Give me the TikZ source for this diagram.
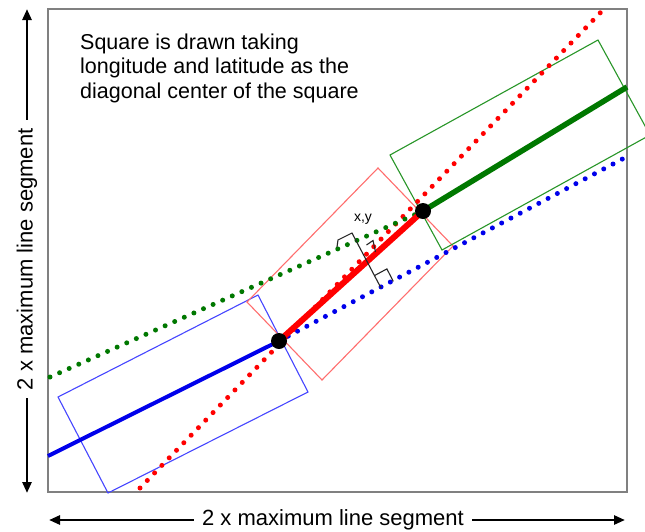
\documentclass[tikz,border=0pt]{standalone}
\usepackage{fontspec}
\setmainfont{Liberation Sans}
\usetikzlibrary{arrows.meta}
\definecolor{boxblue}{RGB}{70,70,255}
\definecolor{boxred}{RGB}{255,110,110}
\definecolor{boxgreen}{RGB}{40,150,40}
\definecolor{linered}{RGB}{255,0,0}
\definecolor{lineblue}{RGB}{0,0,235}
\definecolor{linegreen}{RGB}{0,120,0}
\definecolor{framegray}{RGB}{128,128,128}
\begin{document}
\begin{tikzpicture}[x=1pt,y=-1pt,
  frame/.style={draw=framegray, line width=2pt},
  dim/.style={line width=2.6pt, {Triangle[length=11pt,width=9pt]}-{Triangle[length=11pt,width=9pt]}},
  dimlabel/.style={fill=white, inner xsep=8pt, inner ysep=2pt, font=\fontsize{22}{26}\selectfont},
  dotline/.style={line width=5pt, line cap=round, dash pattern=on 0pt off 10.5pt},
  segline/.style={line width=5pt},
  box/.style={line width=1.1pt},
  annot/.style={line width=1.1pt, draw=black!85},
  dotpt/.style={fill=black}
]
\useasboundingbox (0,0) rectangle (645,531);
\clip (0,0) rectangle (645,531);
\fill[white] (0,0) rectangle (645,531);

% frame
\draw[frame] (48,9) rectangle (627,492);

% key points
\coordinate (A) at (279,341);
\coordinate (B) at (423,211);
\coordinate (Bl) at (48,456);
\coordinate (Gr) at (627,87);
\coordinate (Rs) at (140,488);
\coordinate (Re) at (602,11);
\coordinate (Gs) at (50,377);
\coordinate (Be) at (630,155);

% rectangles
\draw[box, boxblue] (58,397) -- (258,295) -- (308,392) -- (108,493) -- cycle;
\draw[box, boxred] (247,302) -- (378,168) -- (453,246) -- (322,380) -- cycle;
\draw[box, boxgreen] (390,155) -- (598,40) -- (650,135) -- (442,250) -- cycle;

% dotted extensions
\draw[dotline, linered] (Rs) -- (Re);
\draw[dotline, linegreen] (Gs) -- (B);
\draw[dotline, lineblue] (A) -- (Be);

% thick segments
\draw[segline, lineblue, line width=4pt] (Bl) -- (A);
\draw[segline, linered, line width=6pt] (A) -- (B);
\draw[segline, linegreen, line width=5.5pt] (B) -- (Gr);

% annotation x,y
\coordinate (P) at (352,233);
\coordinate (Q) at (381,288);
\draw[annot] (337,247) -- (338,240) -- (P) -- (Q);
\draw[annot] (374.6,275.5) -- (386.9,268.9) -- (393.3,281.4);
\draw[annot] (366.5,245) -- (373,240.5) -- (375.5,252);
\node[font=\fontsize{14}{16}\selectfont, inner sep=0pt] (xy) at (363,219) {x,y};

% points
\fill[dotpt] (A) circle (8);
\fill[dotpt] (B) circle (8);

% text
\node[anchor=north west, align=left, inner sep=0pt, font=\fontsize{21.5}{24.5}\selectfont] (note) at (80,33.5)
  {Square is drawn taking\\longitude and latitude as the\\diagonal center of the square};

% dimension arrows
\coordinate (hl) at (49,520);
\coordinate (hr) at (625,520);
\draw[dim] (hl) -- (hr) node[dimlabel, pos=0.493] (hlabel) {2 x maximum line segment};
\coordinate (vb) at (27,493);
\coordinate (vt) at (27,9);
\draw[dim] (vb) -- (vt) node[dimlabel, pos=0.483, rotate=90] (vlabel) {2 x maximum line segment};
\end{tikzpicture}
\end{document}
